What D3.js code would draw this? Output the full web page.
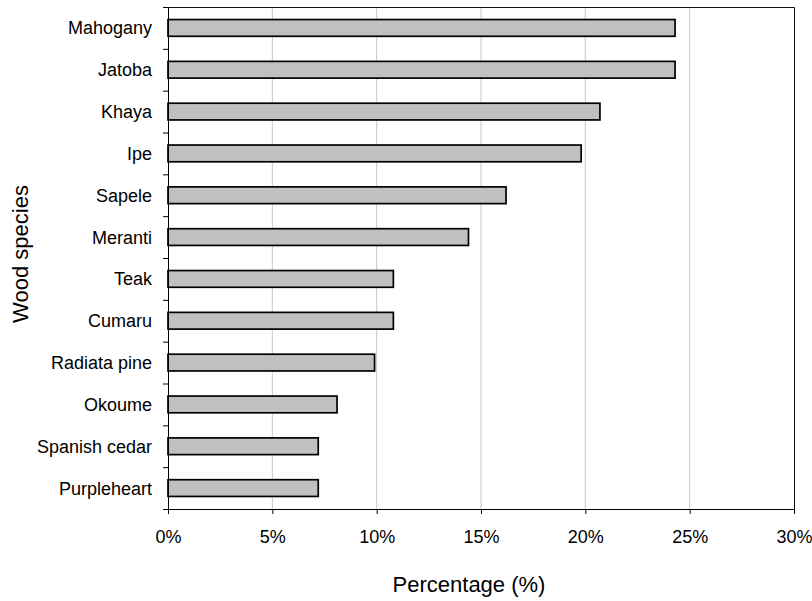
<!DOCTYPE html>
<html>
<head>
<meta charset="utf-8">
<script src="https://cdn.jsdelivr.net/npm/d3@7"></script>
<style>
  html, body { margin: 0; padding: 0; background: #fff; }
  svg { display: block; font-family: "Liberation Sans", Arial, sans-serif; }
</style>
</head>
<body>
<svg id="chart" width="812" height="601"></svg>
<script>
// Share of each wood species (%), top to bottom
const species = ["Mahogany", "Jatoba", "Khaya", "Ipe", "Sapele", "Meranti", "Teak",
                 "Cumaru", "Radiata pine", "Okoume", "Spanish cedar", "Purpleheart"];
const shares = [24.3, 24.3, 20.7, 19.8, 16.2, 14.4, 10.8, 10.8, 9.9, 8.1, 7.2, 7.2];
const xTicks = [0, 5, 10, 15, 20, 25, 30];

const svg = d3.select("#chart");
const plot = { left: 168, right: 794, top: 7, bottom: 509 };

const x = d3.scaleLinear().domain([0, 30]).range([plot.left, plot.right]);
const y = d3.scaleBand().domain(species).range([plot.top, plot.bottom])
  .paddingInner(0.6).paddingOuter(0.3);

// vertical gridlines
svg.append("g")
  .selectAll("line")
  .data(xTicks.filter(t => t > 0 && t < 30))
  .join("line")
  .attr("x1", d => x(d)).attr("x2", d => x(d))
  .attr("y1", plot.top).attr("y2", plot.bottom)
  .attr("stroke", "#c8c8c8").attr("stroke-width", 1);

// plot frame (top and right)
svg.append("path")
  .attr("d", `M${plot.left},${plot.top + 0.5}H${plot.right + 0.5}V${plot.bottom}`)
  .attr("fill", "none").attr("stroke", "#111").attr("stroke-width", 1);

// bars
svg.append("g")
  .selectAll("rect")
  .data(species.map((s, i) => ({ s, v: shares[i] })))
  .join("rect")
  .attr("x", x(0))
  .attr("y", d => y(d.s))
  .attr("width", d => x(d.v) - x(0))
  .attr("height", y.bandwidth())
  .attr("fill", "#c0c0c0")
  .attr("stroke", "#000")
  .attr("stroke-width", 1.7);

// x axis
const xAxis = svg.append("g")
  .attr("transform", `translate(0,${plot.bottom})`)
  .call(d3.axisBottom(x).tickValues(xTicks).tickFormat(d => d + "%")
    .tickSizeInner(5).tickSizeOuter(0).tickPadding(16));
xAxis.select(".domain").attr("stroke", "#000").attr("d", `M${plot.left - 5},0.5H${plot.right + 0.5}`);
xAxis.selectAll(".tick line").attr("stroke", "#000");
xAxis.selectAll("text").attr("font-size", 18).attr("fill", "#000")
  .attr("font-family", "'Liberation Sans', Arial, sans-serif");

// y axis: tick marks at category boundaries
const yAxis = svg.append("g");
yAxis.append("line")
  .attr("x1", plot.left + 0.5).attr("x2", plot.left + 0.5)
  .attr("y1", plot.top).attr("y2", plot.bottom + 5)
  .attr("stroke", "#000");
yAxis.selectAll("line.tk")
  .data(d3.range(species.length + 1))
  .join("line")
  .attr("class", "tk")
  .attr("x1", plot.left - 5).attr("x2", plot.left)
  .attr("y1", i => plot.top + i * (plot.bottom - plot.top) / species.length + 0.5)
  .attr("y2", i => plot.top + i * (plot.bottom - plot.top) / species.length + 0.5)
  .attr("stroke", "#000");
yAxis.selectAll("text")
  .data(species)
  .join("text")
  .attr("x", 152)
  .attr("y", d => y(d) + y.bandwidth() / 2)
  .attr("dy", "0.36em")
  .attr("text-anchor", "end")
  .attr("font-size", 18)
  .attr("fill", "#000")
  .text(d => d);

// axis titles
svg.append("text")
  .attr("x", 469)
  .attr("y", 592)
  .attr("text-anchor", "middle")
  .attr("font-size", 22)
  .attr("fill", "#000")
  .text("Percentage (%)");

svg.append("text")
  .attr("transform", "translate(28,254) rotate(-90)")
  .attr("text-anchor", "middle")
  .attr("font-size", 22)
  .attr("fill", "#000")
  .text("Wood species");
</script>
</body>
</html>
